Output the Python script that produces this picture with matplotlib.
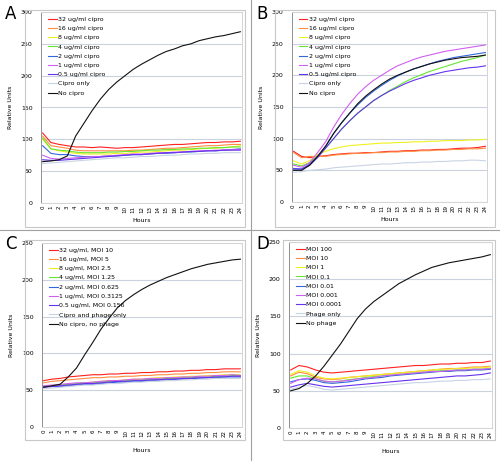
import matplotlib
matplotlib.use('Agg')
import matplotlib.pyplot as plt
from matplotlib.patches import Rectangle
from matplotlib.lines import Line2D

hours = list(range(25))

colors = ['#ff2020', '#ff8c40', '#f0f020', '#66e633', '#3366dd',
          '#d060f0', '#6633ee', '#c8d4e4', '#111111']

# panel A
labels_a = ['32 ug/ml cipro', '16 ug/ml cipro', '8 ug/ml cipro', '4 ug/ml cipro',
            '2 ug/ml cipro', '1 ug/ml cipro', '0.5 ug/ml cipro', 'Cipro only', 'No cipro']
a_32 = [110, 95, 92, 90, 88, 88, 87, 88, 87, 86, 87, 87, 88, 89, 90, 91, 92, 92, 93, 94, 95, 95, 96, 96, 97]
a_16 = [105, 90, 88, 86, 83, 82, 82, 82, 82, 82, 82, 83, 83, 84, 85, 86, 86, 87, 88, 89, 90, 90, 91, 92, 92]
a_8 = [100, 85, 82, 80, 78, 77, 77, 77, 77, 78, 78, 79, 80, 80, 81, 82, 83, 83, 84, 85, 86, 86, 87, 88, 90]
a_4 = [102, 85, 83, 82, 80, 79, 79, 79, 80, 80, 81, 81, 82, 83, 83, 84, 84, 85, 85, 86, 86, 87, 87, 88, 88]
a_2 = [90, 78, 76, 76, 74, 73, 73, 73, 74, 74, 75, 76, 76, 77, 78, 78, 79, 80, 80, 81, 82, 82, 83, 84, 85]
a_1 = [75, 70, 69, 70, 71, 72, 73, 73, 74, 75, 76, 77, 77, 78, 79, 79, 80, 80, 81, 82, 82, 83, 83, 84, 84]
a_05 = [68, 67, 67, 68, 69, 70, 71, 72, 73, 74, 75, 76, 76, 77, 78, 79, 79, 80, 81, 81, 82, 82, 83, 83, 83]
a_only = [62, 63, 64, 65, 66, 67, 68, 69, 70, 71, 71, 72, 73, 73, 74, 75, 75, 76, 77, 77, 78, 78, 79, 79, 79]
a_none = [65, 66, 68, 74, 105, 125, 145, 163, 178, 190, 200, 210, 218, 225, 232, 238, 242, 247, 250, 255, 258, 261, 263, 266, 269]

# panel B
b_32 = [80, 72, 70, 72, 73, 75, 76, 77, 77, 78, 78, 79, 80, 80, 81, 81, 82, 82, 83, 83, 84, 85, 85, 86, 88]
b_16 = [78, 70, 72, 72, 72, 74, 75, 76, 77, 77, 78, 78, 79, 79, 80, 80, 81, 81, 82, 82, 83, 83, 84, 84, 85]
b_8 = [65, 60, 65, 75, 80, 84, 87, 89, 90, 91, 92, 93, 93, 94, 94, 95, 95, 96, 96, 97, 97, 97, 98, 98, 99]
b_4 = [60, 57, 62, 72, 85, 100, 115, 128, 140, 150, 160, 168, 176, 183, 190, 196, 201, 206, 210, 214, 218, 222, 225, 228, 232]
b_2 = [53, 52, 60, 72, 88, 108, 125, 140, 153, 165, 175, 184, 192, 199, 205, 210, 214, 218, 222, 225, 228, 230, 232, 234, 236]
b_1 = [58, 55, 62, 78, 95, 118, 138, 155, 170, 182, 192, 200, 208, 215, 220, 225, 229, 232, 235, 238, 240, 242, 244, 246, 248]
b_05 = [52, 52, 58, 70, 85, 100, 115, 128, 140, 150, 160, 168, 175, 181, 187, 192, 196, 200, 203, 206, 208, 210, 212, 213, 215]
b_only = [47, 48, 50, 51, 52, 54, 55, 56, 57, 58, 59, 60, 60, 61, 62, 62, 63, 63, 64, 64, 65, 65, 66, 66, 65]
b_none = [50, 50, 58, 72, 88, 108, 125, 140, 155, 167, 177, 186, 194, 200, 205, 210, 214, 218, 221, 224, 226, 228, 229, 230, 232]

# panel C
labels_c = ['32 ug/ml, MOI 10', '16 ug/ml, MOI 5', '8 ug/ml, MOI 2.5', '4 ug/ml, MOI 1.25',
            '2 ug/ml, MOI 0.625', '1 ug/ml, MOI 0.3125', '0.5 ug/ml, MOI 0.156',
            'Cipro and phage only', 'No cipro, no phage']
c_32 = [63, 65, 66, 68, 69, 70, 71, 71, 72, 72, 73, 73, 74, 74, 75, 75, 76, 76, 77, 77, 78, 78, 79, 79, 79]
c_16 = [60, 62, 63, 64, 65, 66, 67, 67, 68, 68, 69, 69, 70, 70, 71, 71, 72, 72, 73, 73, 74, 74, 75, 75, 75]
c_8 = [55, 56, 57, 58, 59, 60, 61, 62, 63, 63, 64, 65, 65, 66, 67, 67, 68, 68, 69, 69, 70, 70, 71, 71, 71]
c_4 = [55, 56, 57, 58, 59, 60, 60, 61, 62, 63, 63, 64, 64, 65, 65, 66, 66, 67, 67, 68, 68, 69, 69, 70, 70]
c_2 = [55, 55, 55, 56, 57, 58, 58, 59, 60, 61, 61, 62, 62, 63, 64, 64, 65, 65, 66, 66, 67, 67, 68, 68, 68]
c_1 = [56, 57, 58, 59, 60, 60, 61, 62, 63, 63, 64, 65, 65, 66, 66, 67, 67, 68, 68, 69, 69, 70, 70, 71, 70]
c_05 = [54, 55, 56, 57, 58, 59, 59, 60, 61, 62, 62, 63, 63, 64, 64, 65, 65, 66, 66, 67, 67, 68, 68, 69, 69]
c_only = [52, 53, 54, 55, 56, 57, 57, 58, 59, 59, 60, 61, 61, 62, 62, 63, 63, 64, 64, 65, 65, 66, 66, 66, 66]
c_none = [54, 56, 58, 68, 80, 98, 115, 133, 148, 162, 172, 180, 187, 193, 198, 203, 207, 211, 215, 218, 221, 223, 225, 227, 228]

# panel D
labels_d = ['MOI 100', 'MOI 10', 'MOI 1', 'MOI 0.1', 'MOI 0.01', 'MOI 0.001',
            'MOI 0.0001', 'Phage only', 'No phage']
d_100 = [78, 84, 82, 78, 75, 74, 75, 76, 77, 78, 79, 80, 81, 82, 83, 84, 84, 85, 86, 86, 87, 87, 88, 88, 90]
d_10 = [70, 75, 73, 68, 66, 65, 66, 68, 69, 70, 71, 72, 73, 74, 75, 76, 77, 78, 79, 80, 80, 81, 82, 82, 83]
d_1 = [72, 77, 75, 70, 67, 66, 67, 68, 69, 70, 71, 72, 73, 74, 75, 76, 77, 78, 79, 79, 80, 80, 81, 81, 82]
d_01 = [67, 70, 70, 66, 63, 62, 63, 65, 66, 68, 69, 70, 71, 72, 73, 74, 75, 76, 77, 77, 78, 78, 79, 79, 80]
d_001 = [62, 65, 66, 64, 61, 60, 61, 62, 64, 66, 67, 68, 70, 71, 72, 73, 74, 75, 76, 76, 77, 77, 78, 78, 79]
d_0001 = [60, 65, 67, 66, 63, 62, 63, 64, 66, 67, 68, 70, 71, 72, 73, 74, 75, 76, 76, 77, 78, 78, 79, 79, 80]
d_00001 = [55, 58, 60, 58, 56, 55, 56, 57, 58, 59, 60, 61, 62, 63, 64, 65, 66, 67, 68, 69, 70, 70, 71, 72, 74]
d_only = [52, 55, 57, 55, 52, 51, 52, 53, 54, 55, 56, 57, 58, 59, 60, 61, 61, 62, 63, 63, 64, 64, 65, 65, 66]
d_none = [50, 53, 60, 70, 83, 98, 113, 130, 147, 160, 170, 178, 186, 194, 200, 206, 211, 216, 219, 222, 224, 226, 228, 230, 233]

W, H = 500, 461
fig = plt.figure(figsize=(W / 100, H / 100), dpi=100)


def px_rect(x0, y0, x1, y1):
    # caja en pixeles (origen arriba a la izquierda) -> fraccion de figura
    return [x0 / W, 1 - y1 / H, (x1 - x0) / W, (y1 - y0) / H]


def panel(letter, letter_xy, plot_box, outer_box, series, labels, ymax, xlabelpad):
    # marco exterior del panel
    ox0, oy0, ox1, oy1 = outer_box
    fig.patches.append(Rectangle((ox0 / W, 1 - oy1 / H), (ox1 - ox0) / W, (oy1 - oy0) / H,
                                 transform=fig.transFigure, fill=False,
                                 edgecolor='#c8c8c8', linewidth=0.8))
    fig.text(letter_xy[0] / W, 1 - letter_xy[1] / H, letter, fontsize=12,
             va='center', ha='left')

    ax = fig.add_axes(px_rect(*plot_box))
    for ys, lab, col in zip(series, labels, colors):
        ax.plot(hours, ys, color=col, lw=0.8, label=lab)
    ax.set_xlim(-0.2, 24.2)
    ax.set_ylim(0, ymax)
    ax.set_xticks(hours)
    ax.set_xticklabels([str(h) for h in hours], rotation=90, fontsize=4)
    ax.set_yticks(range(0, ymax + 1, 50))
    ax.tick_params(axis='y', labelsize=4.5, length=0, pad=6)
    ax.tick_params(axis='x', length=0, pad=2)
    ax.yaxis.grid(True, color='#c9d2de', lw=0.8)
    ax.set_axisbelow(True)
    for s in ax.spines.values():
        s.set_color('#d4d4d4')
        s.set_linewidth(0.7)
    ax.spines['left'].set_color('#909090')
    ax.set_ylabel('Relative Units', fontsize=4.5, labelpad=6)
    ax.set_xlabel('Hours', fontsize=4.5, labelpad=xlabelpad)
    ax.legend(loc='upper left', frameon=False, fontsize=4.5, handlelength=1.3,
              handletextpad=0.3, labelspacing=0.62, borderaxespad=0.3,
              bbox_to_anchor=(0.015, 1.0))
    return ax


panel('A', (5, 14), (41, 12, 242, 203), (25, 10, 245, 227),
      [a_32, a_16, a_8, a_4, a_2, a_1, a_05, a_only, a_none], labels_a, 300, 4)
panel('B', (256, 14), (292, 12, 487, 202), (275, 10, 495, 227),
      [b_32, b_16, b_8, b_4, b_2, b_1, b_05, b_only, b_none], labels_a, 300, 4)
panel('C', (5, 244), (42, 243, 242, 427), (25, 240, 245, 440),
      [c_32, c_16, c_8, c_4, c_2, c_1, c_05, c_only, c_none], labels_c, 250, 8)
panel('D', (256, 244), (289, 242, 492, 428), (283, 240, 495, 440),
      [d_100, d_10, d_1, d_01, d_001, d_0001, d_00001, d_only, d_none], labels_d, 250, 8)

# lineas separadoras entre paneles
fig.add_artist(Line2D([0, 1], [1 - 230 / H, 1 - 230 / H], transform=fig.transFigure,
                      color='#a0a0a0', lw=0.8))
fig.add_artist(Line2D([251 / W, 251 / W], [0, 1], transform=fig.transFigure,
                      color='#a0a0a0', lw=0.8))

fig.savefig('out.png', dpi=100, facecolor='white')
